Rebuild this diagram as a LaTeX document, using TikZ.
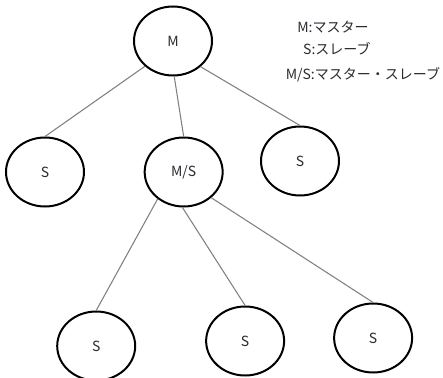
\documentclass[tikz,border=0pt]{standalone}
\usepackage{fontspec}
\setmainfont{Noto Sans CJK JP}
\usetikzlibrary{positioning,shapes.geometric}
\definecolor{NInk}{HTML}{2A2A30}
\definecolor{NEdge}{HTML}{808080}

\begin{document}
\begin{tikzpicture}[node distance=45pt,
    unit/.style={draw=black,line width=1.5pt,ellipse,minimum width=58.5pt,minimum height=51.75pt,inner sep=0pt,text=NInk,font=\fontsize{10.5}{12}\selectfont},
    legtext/.style={inner sep=0pt,text height=8pt,text depth=2pt,text=NInk,font=\fontsize{10.5}{12}\selectfont},
    link/.style={draw=NEdge,line width=0.8pt}]
    \useasboundingbox (-129.75pt,30.75pt) rectangle (202.5pt,-252.75pt);

    % master on top, one master/slave below it
    \node[unit] (M) {M};
    \node[unit, below=45pt of M, xshift=-96pt] (S1) {S};
    \node[unit, below=45pt of M, xshift=8pt] (MS) {M/S};
    \node[unit, below=36.75pt of M, xshift=95.25pt] (S2) {S};

    % slaves under the master/slave
    \node[unit, below=77.25pt of MS, xshift=-65.6pt] (S3) {S};
    \node[unit, below=73.5pt of MS, xshift=46.1pt] (S4) {S};
    \node[unit, below=71.25pt of MS, xshift=142.1pt] (S5) {S};

    % legend
    \node[legtext, right=63pt of M, yshift=9pt] (leg1) {M:マスター};
    \node[legtext, below=5.75pt of leg1, xshift=3pt] (leg2) {S:スレーブ};
    \node[legtext, below=8.4pt of leg2, xshift=19.5pt] (leg3) {M/S:マスター・スレーブ};

    \draw[link] (M.222) -- (S1.north);
    \draw[link] (M.272) -- (MS.north);
    \draw[link] (M.317) -- (S2.north);

    \draw[link] (MS.226) -- (S3.north);
    \draw[link] (MS.268) -- (S4.north);
    \draw[link] (MS.317) -- (S5.north);
  \end{tikzpicture}
\end{document}
